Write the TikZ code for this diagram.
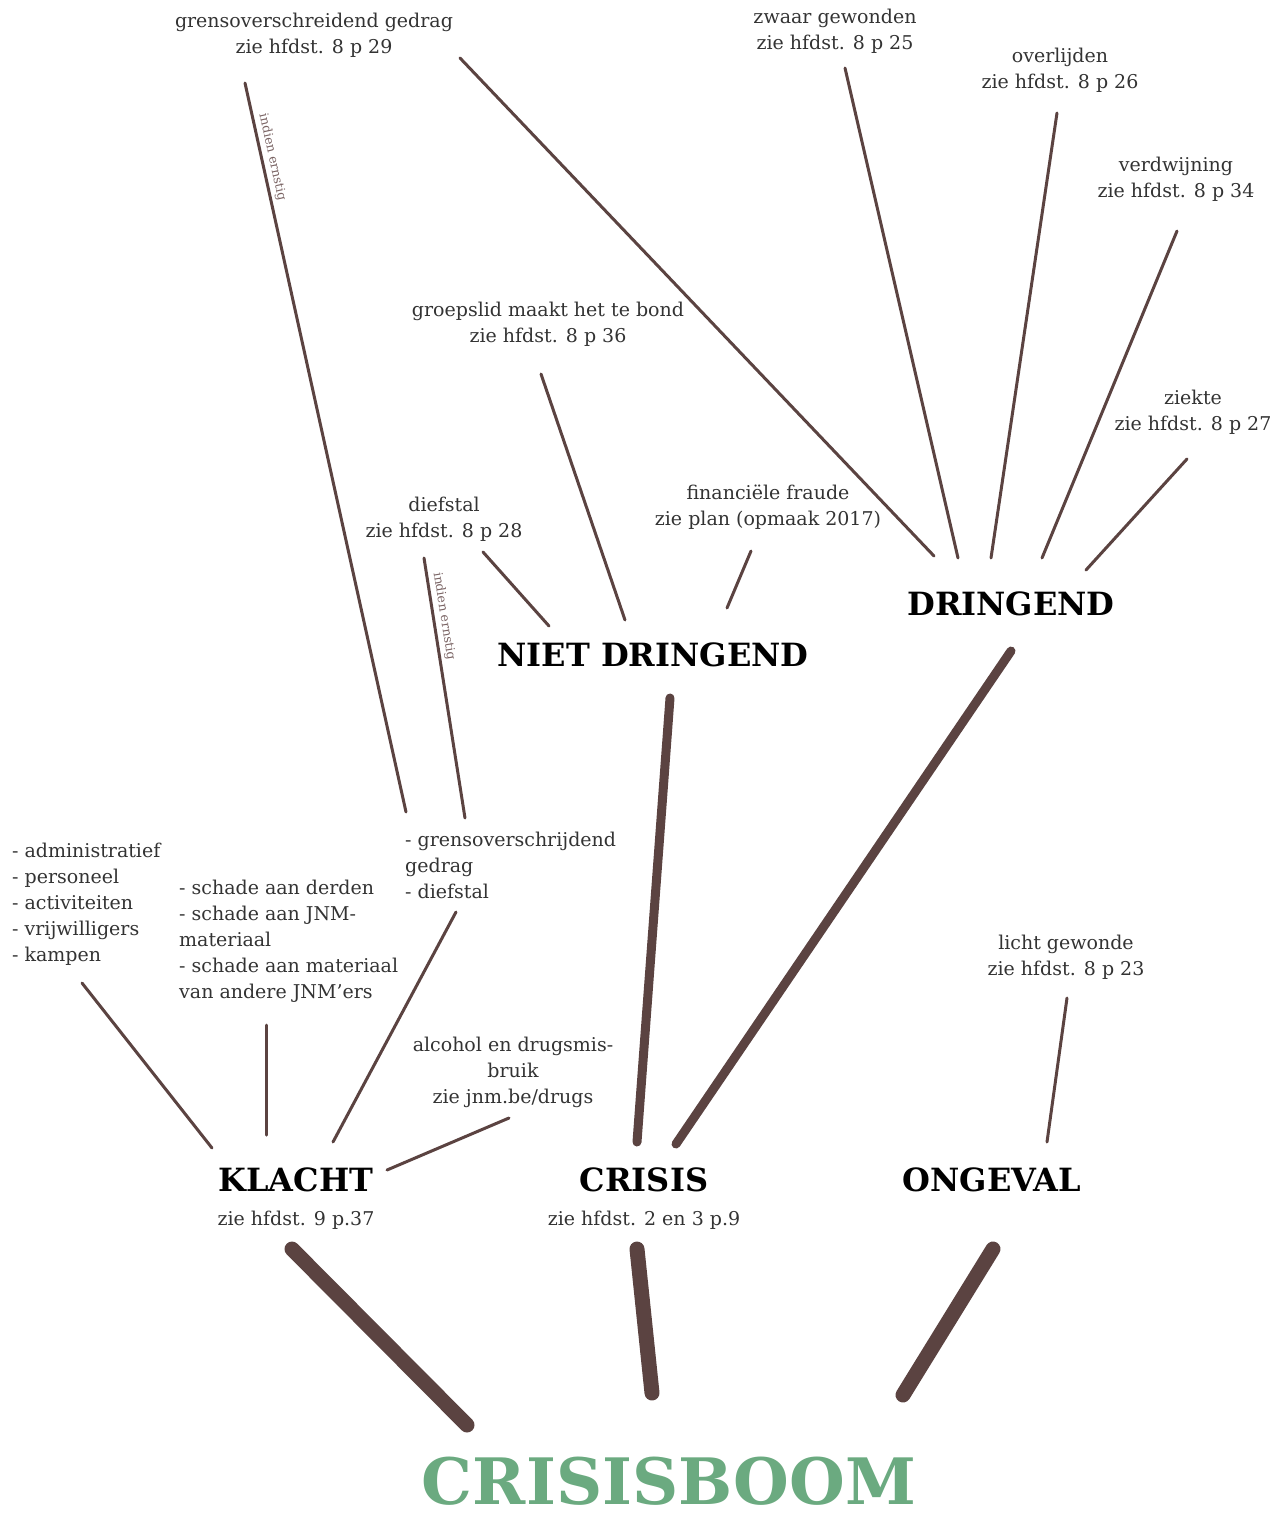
\documentclass[tikz,border=0pt]{standalone}
\usepackage{fontspec}
\setmainfont{DejaVu Serif}
\usetikzlibrary{positioning,calc}

\definecolor{tak}{HTML}{5B4341}
\definecolor{boomgroen}{HTML}{6BAA80}
\definecolor{tekst}{HTML}{333333}
\definecolor{opm}{HTML}{7A6464}

\newcommand\klein{\fontsize{19}{26}\selectfont}
\newcommand\kop{\fontsize{32}{36}\selectfont\bfseries}
\newcommand\titel{\fontsize{64}{72}\selectfont\bfseries}

\begin{document}
\begin{tikzpicture}[x=1pt,y=-1pt,inner sep=0pt,line cap=round]
	\tikzstyle{txt}=[align=center,font=\klein,text=tekst]
	\tikzstyle{lijst}=[align=left,font=\klein,text=tekst,anchor=west]
	\tikzstyle{kopje}=[font=\kop,text=black]
	\tikzstyle{twijg}=[draw=tak,line width=3pt]
	\tikzstyle{tak}=[draw=tak,line width=9pt]
	\tikzstyle{stam}=[draw=tak,line width=15pt]
	\tikzstyle{ernstig}=[font=\fontsize{12.5}{13}\selectfont,text=opm,sloped,above=3pt]

	\useasboundingbox (0,0) rectangle (1285,1519);

	% bovenste laag
	\node[txt] (grens) at (314,35) {grensoverschreidend gedrag\\zie hfdst. 8 p 29};
	\node[txt] (zwaar) at (835,31) {zwaar gewonden\\zie hfdst. 8 p 25};
	\node[txt] (overl) at (1060,70) {overlijden\\zie hfdst. 8 p 26};
	\node[txt] (verdw) at (1176,179) {verdwijning\\zie hfdst. 8 p 34};
	\node[txt] (groep) at (548,324) {groepslid maakt het te bond\\zie hfdst. 8 p 36};
	\node[txt] (ziekte) at (1193,412) {ziekte\\zie hfdst. 8 p 27};
	\node[txt] (fraude) at (768,507) {financiële fraude\\zie plan (opmaak 2017)};
	\node[txt] (dief) at (444,519) {diefstal\\zie hfdst. 8 p 28};

	\node[kopje] (dringend) at (1011,604) {DRINGEND};
	\node[kopje] (nietdr) at (653,655) {NIET DRINGEND};

	% onder de klacht
	\node[lijst] (gbox) at (405,865) {- grensoverschrijdend\\gedrag\\- diefstal};
	\node[lijst] (adm) at (12,904) {- administratief\\- personeel\\- activiteiten\\- vrijwilligers\\- kampen};
	\node[lijst] (schade) at (179,941) {- schade aan derden\\- schade aan JNM-\\materiaal\\- schade aan materiaal\\van andere JNM'ers};
	\node[txt] (licht) at (1066,957) {licht gewonde\\zie hfdst. 8 p 23};
	\node[txt] (alcohol) at (513,1072) {alcohol en drugsmis-\\bruik\\zie jnm.be/drugs};

	\node[kopje] (klacht) at (296,1180) {KLACHT};
	\node[kopje] (crisis) at (644,1180) {CRISIS};
	\node[kopje] (ongeval) at (992,1180) {ONGEVAL};
	\node[txt] (klachtref) [below=19pt of klacht] {zie hfdst. 9 p.37};
	\node[txt] (crisisref) [below=19pt of crisis] {zie hfdst. 2 en 3 p.9};

	\node[font=\titel,text=boomgroen] (boom) at (669,1481) {CRISISBOOM};

	% twijgen naar dringend
	\path ($(grens)+(146,23)$) edge[twijg] ($(dringend)+(-77,-48)$);
	\path ($(zwaar)+(10,37)$) edge[twijg] ($(dringend)+(-53,-46)$);
	\path ($(overl)+(-3,43)$) edge[twijg] ($(dringend)+(-20,-46)$);
	\path ($(verdw)+(1,52)$) edge[twijg] ($(dringend)+(31,-46)$);
	\path ($(ziekte)+(-6,47)$) edge[twijg] ($(dringend)+(75,-34)$);

	% twijgen naar niet dringend
	\path ($(groep)+(-7,50)$) edge[twijg] ($(nietdr)+(-28,-35)$);
	\path ($(dief)+(39,33)$) edge[twijg] ($(nietdr)+(-104,-29)$);
	\path ($(fraude)+(-17,44)$) edge[twijg] ($(nietdr)+(74,-47)$);

	% indien ernstig
	\path ($(grens)+(-69,48)$) edge[twijg] node[ernstig,pos=0.105] {indien ernstig} ($(gbox.west)+(1,-53)$);
	\path ($(dief)+(-20,39)$) edge[twijg] node[ernstig,pos=0.23] {indien ernstig} ($(gbox.west)+(60,-47)$);

	% twijgen naar klacht en ongeval
	\path ($(adm.west)+(70,79)$) edge[twijg] ($(klacht)+(-84,-32)$);
	\path ($(schade.west)+(87,84)$) edge[twijg] ($(klacht)+(-30,-45)$);
	\path ($(gbox.west)+(51,47)$) edge[twijg] ($(klacht)+(37,-38)$);
	\path ($(alcohol)+(-4,46)$) edge[twijg] ($(klacht)+(91,-10)$);
	\path ($(licht)+(1,41)$) edge[twijg] ($(ongeval)+(55,-38)$);

	% takken en stam
	\path ($(nietdr)+(17,43)$) edge[tak] ($(crisis)+(-7,-38)$);
	\path ($(dringend)+(0,47)$) edge[tak] ($(crisis)+(32,-36)$);
	\path ($(klacht)+(-4,69)$) edge[stam] ($(boom)+(-202,-56)$);
	\path ($(crisis)+(-7,69)$) edge[stam] ($(boom)+(-17,-88)$);
	\path ($(ongeval)+(1,69)$) edge[stam] ($(boom)+(234,-86)$);
\end{tikzpicture}
\end{document}
